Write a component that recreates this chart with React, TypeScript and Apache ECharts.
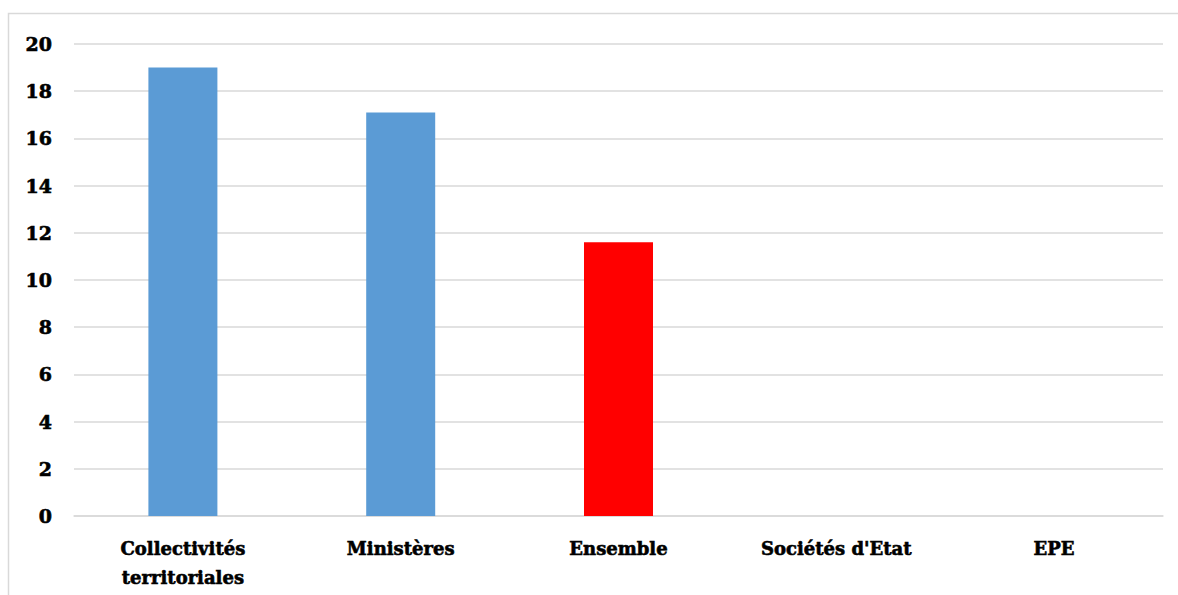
import React, { useEffect, useRef } from "react";
import * as echarts from "echarts";

const categories = ["Collectivités\nterritoriales", "Ministères", "Ensemble", "Sociétés d'Etat", "EPE"];
const values = [19.0, 17.1, 11.6, 0, 0];
const barColors = ["#5b9bd5", "#5b9bd5", "#ff0000", "#5b9bd5", "#5b9bd5"];

const FONT = "'DejaVu Serif', serif";

export default function App() {
  const ref = useRef<HTMLDivElement>(null);
  useEffect(() => {
    const chart = echarts.init(ref.current!, undefined, { renderer: "svg" });
    chart.setOption({
      animation: false,
      backgroundColor: "#ffffff",
      graphic: [
        {
          type: "rect",
          shape: { x: 8.5, y: 13.5, width: 1200, height: 620 },
          style: { fill: "none", stroke: "#d9d9d9", lineWidth: 1.5 },
          silent: true,
        },
      ],
      grid: { left: 74, right: 15, top: 44, bottom: 79 },
      xAxis: {
        type: "category",
        data: categories,
        axisLine: { lineStyle: { color: "#d9d9d9", width: 1.5 } },
        axisTick: { show: false },
        axisLabel: {
          color: "#000",
          fontFamily: FONT,
          fontWeight: 900,
          fontSize: 18,
          lineHeight: 29,
          margin: 18,
          interval: 0,
          textBorderColor: "#000",
          textBorderWidth: 0.6,
        },
      },
      yAxis: {
        type: "value",
        min: 0,
        max: 20,
        interval: 2,
        axisLine: { show: false },
        axisTick: { show: false },
        splitLine: { lineStyle: { color: "#d9d9d9", width: 1.5 } },
        axisLabel: {
          color: "#000",
          fontFamily: FONT,
          fontWeight: 900,
          fontSize: 19,
          margin: 22,
          textBorderColor: "#000",
          textBorderWidth: 0.6,
        },
      },
      series: [
        {
          type: "bar",
          data: values.map((v, i) => ({ value: v, itemStyle: { color: barColors[i] } })),
          barWidth: 69,
        },
      ],
    });
    return () => chart.dispose();
  }, []);
  return <div ref={ref} style={{ position: "fixed", left: 0, top: 0, width: 1178, height: 595 }} />;
}
